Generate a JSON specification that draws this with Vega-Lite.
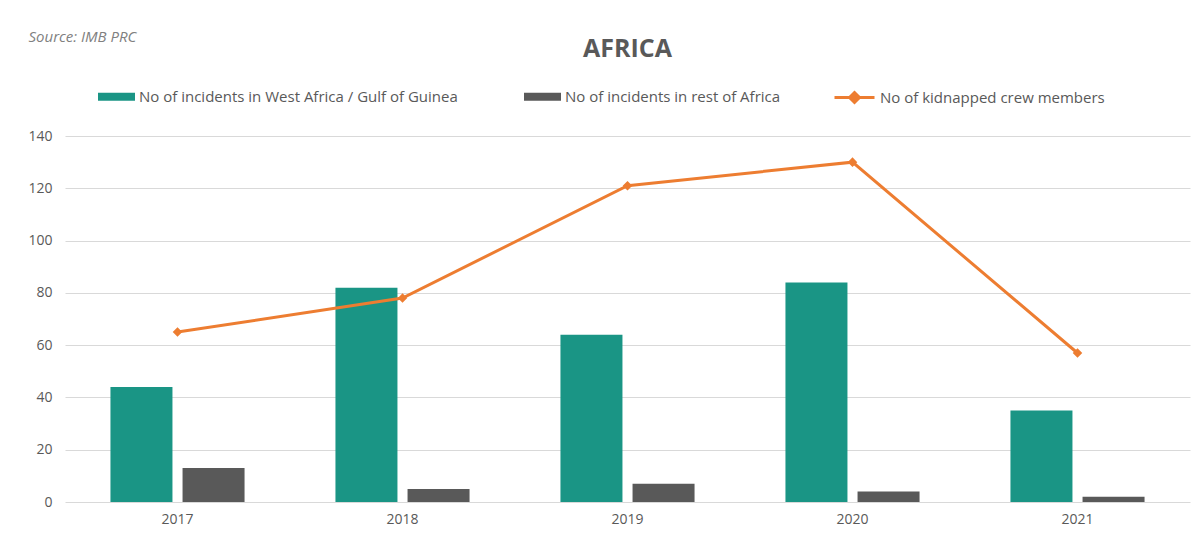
{
  "$schema": "https://vega.github.io/schema/vega-lite/v6.json",
  "width": 1125,
  "height": 366,
  "autosize": {"type": "none"},
  "padding": {"left": 65, "top": 136, "right": 13, "bottom": 43},
  "background": "white",
  "title": {
    "text": "AFRICA",
    "fontSize": 25,
    "fontWeight": "bold",
    "color": "#595959",
    "font": "Open Sans",
    "anchor": "middle",
    "frame": "group",
    "offset": -33
  },
  "data": {
    "values": [
      {"year": "2017", "series": "No of incidents in West Africa / Gulf of Guinea", "value": 44},
      {"year": "2018", "series": "No of incidents in West Africa / Gulf of Guinea", "value": 82},
      {"year": "2019", "series": "No of incidents in West Africa / Gulf of Guinea", "value": 64},
      {"year": "2020", "series": "No of incidents in West Africa / Gulf of Guinea", "value": 84},
      {"year": "2021", "series": "No of incidents in West Africa / Gulf of Guinea", "value": 35},
      {"year": "2017", "series": "No of incidents in rest of Africa", "value": 13},
      {"year": "2018", "series": "No of incidents in rest of Africa", "value": 5},
      {"year": "2019", "series": "No of incidents in rest of Africa", "value": 7},
      {"year": "2020", "series": "No of incidents in rest of Africa", "value": 4},
      {"year": "2021", "series": "No of incidents in rest of Africa", "value": 2},
      {"year": "2017", "series": "No of kidnapped crew members", "value": 65},
      {"year": "2018", "series": "No of kidnapped crew members", "value": 78},
      {"year": "2019", "series": "No of kidnapped crew members", "value": 121},
      {"year": "2020", "series": "No of kidnapped crew members", "value": 130},
      {"year": "2021", "series": "No of kidnapped crew members", "value": 57}
    ]
  },
  "encoding": {
    "x": {
      "field": "year",
      "type": "nominal",
      "scale": {"paddingInner": 0.404, "paddingOuter": 0.202},
      "axis": {
        "title": null,
        "labelAngle": 0,
        "domain": false,
        "ticks": false,
        "labelColor": "#595959",
        "labelFontSize": 14,
        "labelFont": "Open Sans",
        "labelPadding": 10
      }
    },
    "y": {
      "field": "value",
      "type": "quantitative",
      "scale": {"domain": [0, 140], "nice": false},
      "axis": {
        "values": [0, 20, 40, 60, 80, 100, 120, 140],
        "domain": false,
        "ticks": false,
        "gridColor": "#d9d9d9",
        "gridWidth": 1,
        "labelColor": "#595959",
        "labelFontSize": 14,
        "labelFont": "Open Sans",
        "labelPadding": 13,
        "title": "Source: IMB PRC",
        "titleAngle": 0,
        "titleAlign": "left",
        "titleBaseline": "top",
        "titleX": -37,
        "titleY": -107,
        "titleFont": "Open Sans",
        "titleFontStyle": "italic",
        "titleFontWeight": "normal",
        "titleFontSize": 15,
        "titleColor": "#808080"
      }
    }
  },
  "layer": [
    {
      "transform": [{"filter": "datum.series !== 'No of kidnapped crew members'"}],
      "mark": {"type": "bar"},
      "encoding": {
        "xOffset": {
          "field": "series",
          "type": "nominal",
          "sort": ["No of incidents in West Africa / Gulf of Guinea", "No of incidents in rest of Africa"],
          "scale": {"paddingInner": 0.14, "paddingOuter": 0}
        },
        "fill": {
          "field": "series",
          "type": "nominal",
          "sort": ["No of incidents in West Africa / Gulf of Guinea", "No of incidents in rest of Africa"],
          "scale": {"range": ["#1a9585", "#595959"]},
          "legend": {
            "title": null,
            "orient": "none",
            "direction": "horizontal",
            "legendX": 33,
            "legendY": -58,
            "symbolType": "M-1,-0.22H1V0.22H-1Z",
            "symbolSize": 1369,
            "symbolStrokeWidth": 0,
            "labelFont": "Open Sans",
            "labelFontSize": 15,
            "labelColor": "#595959",
            "labelLimit": 500,
            "labelOffset": 4,
            "columnPadding": 66
          }
        }
      }
    },
    {
      "transform": [{"filter": "datum.series === 'No of kidnapped crew members'"}],
      "mark": {
        "type": "line",
        "strokeWidth": 3,
        "point": {"shape": "diamond", "filled": true, "fill": "#ED7D31", "size": 45}
      },
      "encoding": {
        "stroke": {
          "field": "series",
          "type": "nominal",
          "scale": {"range": ["#ED7D31"]},
          "legend": {
            "title": null,
            "orient": "none",
            "direction": "horizontal",
            "legendX": 768,
            "legendY": -60,
            "symbolType": "M-1,0H1M-0.25,0L0,-0.25L0.25,0L0,0.25Z",
            "symbolSize": 1600,
            "symbolStrokeWidth": 3,
            "symbolFillColor": "#ED7D31",
            "labelFont": "Open Sans",
            "labelFontSize": 15,
            "labelColor": "#595959",
            "labelLimit": 500,
            "labelOffset": 4
          }
        }
      }
    }
  ],
  "config": {
    "view": {"stroke": null}
  }
}
